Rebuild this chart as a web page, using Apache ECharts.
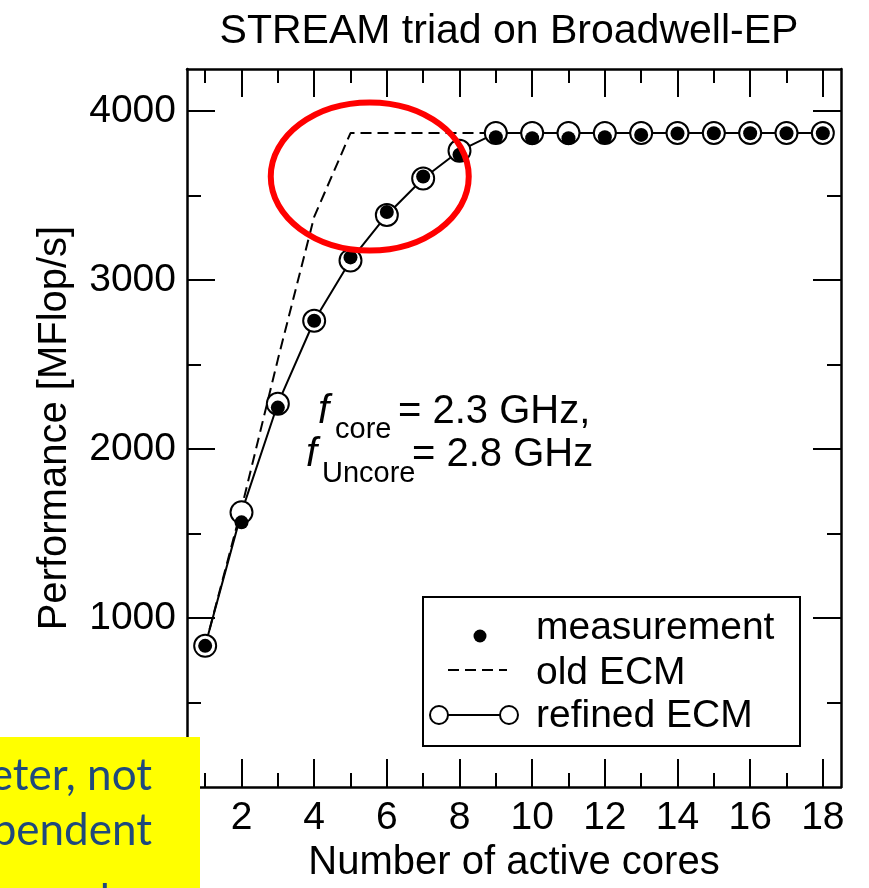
<!DOCTYPE html>
<html><head><meta charset="utf-8">
<script src="https://cdn.jsdelivr.net/npm/echarts@6/dist/echarts.min.js"></script>
<style>html,body{margin:0;padding:0;background:#fff}#c{width:869px;height:888px}</style>
</head><body><div id="c"></div>
<script>
const cores = [1,2,3,4,5,6,7,8,9,10,11,12,13,14,15,16,17,18];
const measurement = [836,1567,2246,2760,3135,3404,3614,3743,3846,3840,3840,3846,3860,3868,3870,3870,3870,3870];
const refinedECM = [836,1626,2269,2760,3117,3386,3602,3766,3871,3871,3871,3871,3871,3871,3871,3871,3871,3871];
const oldECM = [836,1650,2530,3375,3871,3871,3871,3871,3871,3871,3871,3871,3871,3871,3871,3871,3871,3871];
const xMajorTicks = [2,4,6,8,10,12,14,16,18];
const xMinorTicks = [1,3,5,7,9,11,13,15,17];
const yMajorTicks = [1000,2000,3000,4000];
const yMinorTicks = [500,1500,2500,3500];

const FONT = 'Liberation Sans';
const chart = echarts.init(document.getElementById('c'));

function xAx(pos, ticks, len, main) {
  return {
    type: 'value', position: pos, min: 0.5, max: 18.5,
    axisLine: { show: main, onZero: false, lineStyle: { color: '#000', width: 2.5 } },
    axisTick: { show: true, inside: true, length: len, customValues: ticks, lineStyle: { color: '#000', width: 2 } },
    axisLabel: { show: main && pos === 'bottom', customValues: ticks, formatter: v => String(v),
      color: '#000', fontSize: 39, fontFamily: FONT, margin: 12 },
    splitLine: { show: false },
    name: (main && pos === 'bottom') ? 'Number of active cores' : '',
    nameLocation: 'middle', nameGap: 52,
    nameTextStyle: { color: '#000', fontSize: 40, fontFamily: FONT }
  };
}
function yAx(pos, ticks, len, main) {
  return {
    type: 'value', position: pos, min: 0, max: 4250,
    axisLine: { show: main, onZero: false, lineStyle: { color: '#000', width: 2.5 } },
    axisTick: { show: true, inside: true, length: len, customValues: ticks, lineStyle: { color: '#000', width: 2 } },
    axisLabel: { show: main && pos === 'left', customValues: ticks, formatter: v => String(v),
      color: '#000', fontSize: 39, fontFamily: FONT, margin: 11 },
    splitLine: { show: false },
    name: (main && pos === 'left') ? 'Performance [MFlop/s]' : '',
    nameLocation: 'middle', nameGap: 112,
    nameTextStyle: { color: '#000', fontSize: 40, fontFamily: FONT }
  };
}

const option = {
  animation: false,
  backgroundColor: '#fff',
  title: {
    text: 'STREAM triad on Broadwell-EP', left: 504, top: 6, textAlign: 'center',
    textStyle: { color: '#000', fontSize: 41, fontWeight: 'normal', fontFamily: FONT }
  },
  grid: { left: 187, top: 69, right: 28, bottom: 93, containLabel: false },
  xAxis: [ xAx('bottom', xMajorTicks, 28, true), xAx('bottom', xMinorTicks, 14, false),
           xAx('top', xMajorTicks, 28, true), xAx('top', xMinorTicks, 14, false) ],
  yAxis: [ yAx('left', yMajorTicks, 28, true), yAx('left', yMinorTicks, 14, false),
           yAx('right', yMajorTicks, 28, true), yAx('right', yMinorTicks, 14, false) ],
  series: [
    { name: 'old ECM', type: 'line', xAxisIndex: 0, yAxisIndex: 0, z: 2,
      data: cores.map((c, i) => [c, oldECM[i]]), symbol: 'none',
      lineStyle: { color: '#000', width: 2, type: [11, 6] } },
    { name: 'refined ECM', type: 'line', xAxisIndex: 0, yAxisIndex: 0, z: 3,
      data: cores.map((c, i) => [c, refinedECM[i]]), symbol: 'circle', symbolSize: 22,
      itemStyle: { color: '#fff', borderColor: '#000', borderWidth: 2 },
      lineStyle: { color: '#000', width: 2 } },
    { name: 'measurement', type: 'scatter', xAxisIndex: 0, yAxisIndex: 0, z: 4,
      data: cores.map((c, i) => [c, measurement[i]]), symbol: 'circle', symbolSize: 14,
      itemStyle: { color: '#000', opacity: 1 } }
  ]
};
chart.setOption(option);

const ctr = chart.convertToPixel({ gridIndex: 0 }, [5.53, 3614]);
function txt(id, x, y, text, size, extra) {
  return Object.assign({ type: 'text', id: id, x: x, y: y, z: 100,
    style: Object.assign({ text: text, fontSize: size, fontFamily: FONT, fill: '#000', align: 'left', verticalAlign: 'middle' }, extra || {}) });
}
const graphics = [
  { type: 'ellipse', id: 'ring', z: 90, shape: { cx: ctr[0], cy: ctr[1], rx: 99, ry: 74 },
    style: { fill: 'transparent', stroke: '#ff0000', lineWidth: 6 } },
  // annotation
  txt('f1', 318, 412, 'f', 40, { fontStyle: 'italic' }),
  txt('s1', 335, 430, 'core', 29),
  txt('e1', 398, 412, '= 2.3 GHz,', 40),
  txt('f2', 306, 455, 'f', 40, { fontStyle: 'italic' }),
  txt('s2', 322, 474, 'Uncore', 29),
  txt('e2', 412, 455, '= 2.8 GHz', 40),
  // legend
  { type: 'rect', id: 'lgbox', z: 95, shape: { x: 423, y: 597, width: 377, height: 149 },
    style: { fill: '#fff', stroke: '#000', lineWidth: 2 } },
  { type: 'circle', id: 'lgdot', z: 96, shape: { cx: 480, cy: 636, r: 6.5 }, style: { fill: '#000' } },
  { type: 'line', id: 'lgdash', z: 96, shape: { x1: 448, y1: 670, x2: 507, y2: 670 },
    style: { stroke: '#000', lineWidth: 2, lineDash: [11, 6] } },
  { type: 'line', id: 'lgline', z: 96, shape: { x1: 448, y1: 715, x2: 500, y2: 715 },
    style: { stroke: '#000', lineWidth: 2 } },
  { type: 'circle', id: 'lgc1', z: 97, shape: { cx: 439, cy: 715, r: 9 }, style: { fill: '#fff', stroke: '#000', lineWidth: 2 } },
  { type: 'circle', id: 'lgc2', z: 97, shape: { cx: 509, cy: 715, r: 9 }, style: { fill: '#fff', stroke: '#000', lineWidth: 2 } },
  txt('lt1', 536, 628, 'measurement', 39),
  txt('lt2', 536, 673, 'old ECM', 39),
  txt('lt3', 536, 716, 'refined ECM', 39),
  // yellow overlay box
  { type: 'rect', id: 'ybox', z: 200, shape: { x: 0, y: 737, width: 200, height: 151 }, style: { fill: '#ffff00' } },
  { type: 'text', id: 'yt1', z: 201, x: 152, y: 798, style: { text: 'eter, not', fontSize: 44, fontFamily: 'Lato', fill: '#1f497d', align: 'right', verticalAlign: 'bottom' } },
  { type: 'text', id: 'yt2', z: 201, x: 152, y: 853, style: { text: 'pendent', fontSize: 44, fontFamily: 'Lato', fill: '#1f497d', align: 'right', verticalAlign: 'bottom' } },
  { type: 'text', id: 'yt3', z: 201, x: 110, y: 924, style: { text: 'and', fontSize: 44, fontFamily: 'Lato', fill: '#1f497d', align: 'right', verticalAlign: 'bottom' } }
];
chart.setOption({ graphic: graphics });
</script>
</body></html>
